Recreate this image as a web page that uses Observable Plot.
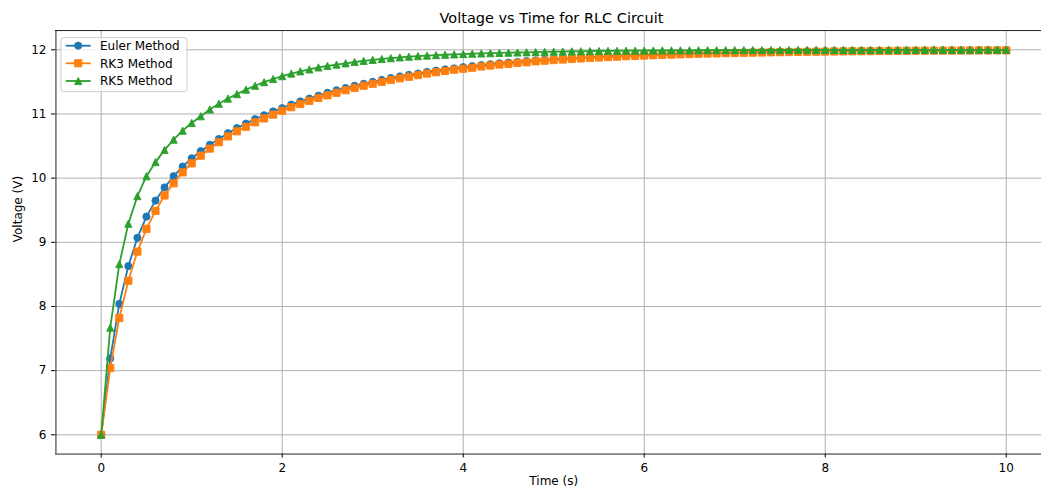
<!DOCTYPE html>
<html><head><meta charset="utf-8">
<script src="https://cdn.jsdelivr.net/npm/d3@7"></script>
<script src="https://cdn.jsdelivr.net/npm/@observablehq/plot@0.6"></script>
<style>
html,body{margin:0;padding:0;background:#fff;overflow:hidden;}
#wrap{position:relative;width:1041px;height:488px;overflow:hidden;font-family:"DejaVu Sans",sans-serif;}
#title{height:30px;line-height:36px;text-align:center;font-size:14.5px;color:#000;width:1103px;white-space:nowrap;}
</style></head>
<body>
<div id="wrap"><div id="title">Voltage vs Time for RLC Circuit</div><div id="chart"></div></div>
<script>
const tValues = [
0,0.1,0.2,0.3,0.4,0.5,0.6,0.7,0.8,0.9,
1,1.1,1.2,1.3,1.4,1.5,1.6,1.7,1.8,1.9,
2,2.1,2.2,2.3,2.4,2.5,2.6,2.7,2.8,2.9,
3,3.1,3.2,3.3,3.4,3.5,3.6,3.7,3.8,3.9,
4,4.1,4.2,4.3,4.4,4.5,4.6,4.7,4.8,4.9,
5,5.1,5.2,5.3,5.4,5.5,5.6,5.7,5.8,5.9,
6,6.1,6.2,6.3,6.4,6.5,6.6,6.7,6.8,6.9,
7,7.1,7.2,7.3,7.4,7.5,7.6,7.7,7.8,7.9,
8,8.1,8.2,8.3,8.4,8.5,8.6,8.7,8.8,8.9,
9,9.1,9.2,9.3,9.4,9.5,9.6,9.7,9.8,9.9,
10];
const eulerValues = [
6.00, 7.19, 8.04, 8.63, 9.07, 9.40, 9.65, 9.855, 10.03, 10.18,
10.31, 10.42, 10.52, 10.61, 10.70, 10.78, 10.85, 10.92, 10.98, 11.04,
11.09, 11.145, 11.195, 11.24, 11.285, 11.33, 11.37, 11.405, 11.44, 11.47,
11.50, 11.53, 11.56, 11.585, 11.61, 11.63, 11.655, 11.675, 11.695, 11.71,
11.73, 11.745, 11.76, 11.775, 11.79, 11.80, 11.81, 11.825, 11.835, 11.845,
11.85, 11.86, 11.87, 11.875, 11.885, 11.89, 11.90, 11.905, 11.91, 11.915,
11.92, 11.925, 11.93, 11.934, 11.938, 11.942, 11.945, 11.949, 11.952, 11.955,
11.957, 11.96, 11.962, 11.965, 11.967, 11.969, 11.971, 11.972, 11.974, 11.976,
11.977, 11.978, 11.98, 11.981, 11.982, 11.983, 11.984, 11.985, 11.986, 11.987,
11.988, 11.988, 11.989, 11.99, 11.99, 11.991, 11.992, 11.992, 11.993, 11.993,
11.994];
const rk3Values = [
6.00, 7.04, 7.82, 8.40, 8.855, 9.21, 9.49, 9.73, 9.92, 10.09,
10.23, 10.35, 10.46, 10.56, 10.65, 10.73, 10.80, 10.87, 10.93, 10.99,
11.05, 11.105, 11.155, 11.205, 11.25, 11.29, 11.33, 11.37, 11.405, 11.44,
11.47, 11.50, 11.53, 11.555, 11.58, 11.605, 11.63, 11.65, 11.67, 11.69,
11.705, 11.72, 11.74, 11.755, 11.77, 11.78, 11.795, 11.805, 11.82, 11.83,
11.84, 11.848, 11.857, 11.865, 11.873, 11.88, 11.887, 11.893, 11.90, 11.905,
11.91, 11.915, 11.92, 11.925, 11.929, 11.933, 11.937, 11.941, 11.944, 11.947,
11.95, 11.953, 11.956, 11.958, 11.961, 11.963, 11.965, 11.967, 11.969, 11.971,
11.972, 11.974, 11.975, 11.977, 11.978, 11.979, 11.981, 11.982, 11.983, 11.984,
11.985, 11.986, 11.987, 11.987, 11.988, 11.989, 11.989, 11.99, 11.99, 11.991,
11.991];
const rk5Values = [
6.00, 7.67, 8.66, 9.29, 9.72, 10.03, 10.25, 10.44, 10.60, 10.74,
10.86, 10.965, 11.07, 11.16, 11.24, 11.31, 11.38, 11.44, 11.495, 11.545,
11.59, 11.63, 11.665, 11.695, 11.725, 11.75, 11.77, 11.79, 11.81, 11.828,
11.843, 11.857, 11.87, 11.882, 11.893, 11.902, 11.91, 11.917, 11.923, 11.929,
11.934, 11.939, 11.943, 11.947, 11.951, 11.955, 11.958, 11.961, 11.964, 11.967,
11.97, 11.973, 11.975, 11.977, 11.979, 11.981, 11.983, 11.984, 11.986, 11.987,
11.988, 11.989, 11.99, 11.991, 11.992, 11.992, 11.993, 11.994, 11.994, 11.995,
11.995, 11.996, 11.996, 11.996, 11.997, 11.997, 11.997, 11.998, 11.998, 11.998,
11.998, 11.998, 11.999, 11.999, 11.999, 11.999, 11.999, 11.999, 11.999, 11.999,
12.0, 12.0, 12.0, 12.0, 12.0, 12.0, 12.0, 12.0, 12.0, 12.0,
12.0];
const seriesNames = ["Euler Method", "RK3 Method", "RK5 Method"];
const seriesColors = ["#1f77b4", "#ff7f0e", "#2ca02c"];
const xTicks = [0, 2, 4, 6, 8, 10];
const yTicks = [6, 7, 8, 9, 10, 11, 12];
const xLabel = "Time (s)";
const yLabel = "Voltage (V)";

const symSquare = {draw(ctx, size){const r=Math.sqrt(size/Math.PI); ctx.moveTo(-r,-r); ctx.lineTo(r,-r); ctx.lineTo(r,r); ctx.lineTo(-r,r); ctx.closePath();}};
const symTriangle = {draw(ctx, size){const r=Math.sqrt(size/Math.PI); ctx.moveTo(0,-r); ctx.lineTo(r,r); ctx.lineTo(-r,r); ctx.closePath();}};
const symbols = ["circle", symSquare, symTriangle];
const valueLists = [eulerValues, rk3Values, rk5Values];

const xDomain = [-0.5, 10.5], yDomain = [5.7, 12.3];
const marks = [
  Plot.ruleY(yTicks, {stroke: "#b0b0b0", strokeWidth: 1}),
  Plot.ruleX(xTicks, {y1: yDomain[0], y2: yDomain[1], stroke: "#b0b0b0", strokeWidth: 1})
];
valueLists.forEach((vals, k) => {
  const rows = tValues.map((t, i) => ({t, v: vals[i]}));
  marks.push(Plot.line(rows, {x: "t", y: "v", stroke: seriesColors[k], strokeWidth: 1.8}));
  marks.push(Plot.dot(rows, {x: "t", y: "v", symbol: symbols[k], r: 3.6, fill: seriesColors[k], stroke: seriesColors[k], strokeWidth: 0.9}));
});
marks.push(
  Plot.ruleX([xDomain[0]], {y1: yDomain[0], y2: yDomain[1], stroke: "#222", strokeWidth: 1}),
  Plot.ruleY([yDomain[0], yDomain[1]], {stroke: "#222", strokeWidth: 1}),
  Plot.axisX({ticks: xTicks, tickFormat: d => String(d), tickSize: 4, tickPadding: 5.5, label: null, fontSize: 12}),
  Plot.axisY({ticks: yTicks, tickFormat: d => String(d), tickSize: 4, tickPadding: 5, label: null, fontSize: 12}),
  Plot.text([xLabel], {x: [5], frameAnchor: "bottom", dy: 27, lineAnchor: "middle", fontSize: 12}),
  Plot.text([yLabel], {frameAnchor: "left", dx: -37, rotate: -90, lineAnchor: "middle", fontSize: 12})
);

const svg = Plot.plot({
  width: 1041, height: 458,
  marginLeft: 55, marginRight: 0, marginTop: 0, marginBottom: 34.45,
  x: {domain: xDomain, range: [55.45, 1051]},
  y: {domain: yDomain, range: [423.55, 0.05]},
  style: {fontFamily: "DejaVu Sans, sans-serif", fontSize: "12px", color: "#000", background: "#fff", overflow: "visible"},
  marks
});

// legend drawn in the plot's svg
const lg = d3.select(svg).append("g").attr("font-family", "DejaVu Sans, sans-serif").attr("font-size", 12).attr("text-anchor", "start");
lg.append("rect").attr("x", 61).attr("y", 7.7).attr("width", 126).attr("height", 54)
  .attr("rx", 3).attr("fill", "#fff").attr("fill-opacity", 0.8).attr("stroke", "#cccccc");
seriesNames.forEach((name, k) => {
  const cy = [15.7, 33.3, 51][k];
  lg.append("line").attr("x1", 65.7).attr("x2", 90.7).attr("y1", cy).attr("y2", cy)
    .attr("stroke", seriesColors[k]).attr("stroke-width", 1.8);
  const r = 3.6;
  if (k === 0) lg.append("circle").attr("cx", 78.2).attr("cy", cy).attr("r", r).attr("fill", seriesColors[k]).attr("stroke", seriesColors[k]).attr("stroke-width", 0.9);
  else {
    const p = d3.path(); symbols[k].draw(p, r * r * Math.PI);
    lg.append("path").attr("d", p.toString()).attr("transform", `translate(78.2,${cy})`).attr("fill", seriesColors[k]).attr("stroke", seriesColors[k]).attr("stroke-width", 0.9);
  }
  lg.append("text").attr("x", 100).attr("y", cy).attr("dy", "0.35em").attr("text-anchor", "start").attr("fill", "#000").text(name);
});

document.getElementById("chart").appendChild(svg);
</script>
</body></html>
